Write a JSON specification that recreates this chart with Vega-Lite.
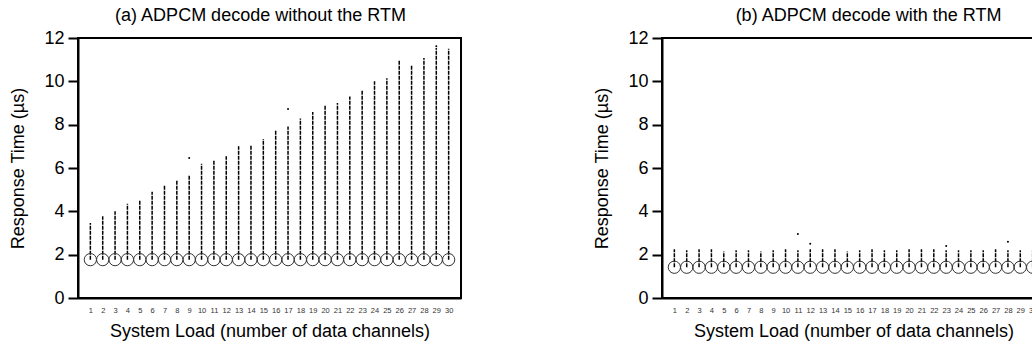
{
  "$schema": "https://vega.github.io/schema/vega-lite/v6.json",
  "background": "white",
  "padding": {"left": 8, "top": 6, "right": 0, "bottom": 0},
  "config": {
    "font": "Liberation Sans",
    "view": {"stroke": "black", "strokeWidth": 2},
    "axis": {"domainColor": "black", "domainWidth": 2, "tickColor": "black", "tickWidth": 2, "grid": false, "labelColor": "black", "titleColor": "black", "titleFontWeight": "normal", "labelFont": "Liberation Sans", "titleFont": "Liberation Sans"},
    "title": {"font": "Liberation Sans", "fontSize": 18, "fontWeight": "normal", "color": "black"},
    "concat": {"spacing": 130}
  },
  "datasets": {
    "a": [
      {"load": 1, "low": 1.77, "high": 3.46}, {"load": 2, "low": 1.77, "high": 3.77}, {"load": 3, "low": 1.77, "high": 4.0},
      {"load": 4, "low": 1.77, "high": 4.35}, {"load": 5, "low": 1.77, "high": 4.54}, {"load": 6, "low": 1.77, "high": 4.9},
      {"load": 7, "low": 1.77, "high": 5.18}, {"load": 8, "low": 1.77, "high": 5.46}, {"load": 9, "low": 1.77, "high": 5.65},
      {"load": 10, "low": 1.77, "high": 6.2}, {"load": 11, "low": 1.77, "high": 6.35}, {"load": 12, "low": 1.77, "high": 6.54},
      {"load": 13, "low": 1.77, "high": 7.0}, {"load": 14, "low": 1.77, "high": 7.06}, {"load": 15, "low": 1.77, "high": 7.34},
      {"load": 16, "low": 1.77, "high": 7.77}, {"load": 17, "low": 1.77, "high": 7.92}, {"load": 18, "low": 1.77, "high": 8.29},
      {"load": 19, "low": 1.77, "high": 8.58}, {"load": 20, "low": 1.77, "high": 8.88}, {"load": 21, "low": 1.77, "high": 9.0},
      {"load": 22, "low": 1.77, "high": 9.3}, {"load": 23, "low": 1.77, "high": 9.58}, {"load": 24, "low": 1.77, "high": 10.0},
      {"load": 25, "low": 1.77, "high": 10.14}, {"load": 26, "low": 1.77, "high": 10.97}, {"load": 27, "low": 1.77, "high": 10.77},
      {"load": 28, "low": 1.77, "high": 11.08}, {"load": 29, "low": 1.77, "high": 11.54}, {"load": 30, "low": 1.77, "high": 11.5}
    ],
    "a_out": [
      {"load": 9, "value": 6.46}, {"load": 17, "value": 8.72}, {"load": 29, "value": 11.62}
    ],
    "b": [
      {"load": 1, "low": 1.42, "high": 2.25}, {"load": 2, "low": 1.42, "high": 2.2}, {"load": 3, "low": 1.42, "high": 2.25},
      {"load": 4, "low": 1.42, "high": 2.25}, {"load": 5, "low": 1.42, "high": 2.15}, {"load": 6, "low": 1.42, "high": 2.2},
      {"load": 7, "low": 1.42, "high": 2.2}, {"load": 8, "low": 1.42, "high": 2.15}, {"load": 9, "low": 1.42, "high": 2.2},
      {"load": 10, "low": 1.42, "high": 2.25}, {"load": 11, "low": 1.42, "high": 2.2}, {"load": 12, "low": 1.42, "high": 2.25},
      {"load": 13, "low": 1.42, "high": 2.25}, {"load": 14, "low": 1.42, "high": 2.25}, {"load": 15, "low": 1.42, "high": 2.15},
      {"load": 16, "low": 1.42, "high": 2.2}, {"load": 17, "low": 1.42, "high": 2.25}, {"load": 18, "low": 1.42, "high": 2.2},
      {"load": 19, "low": 1.42, "high": 2.2}, {"load": 20, "low": 1.42, "high": 2.25}, {"load": 21, "low": 1.42, "high": 2.25},
      {"load": 22, "low": 1.42, "high": 2.25}, {"load": 23, "low": 1.42, "high": 2.2}, {"load": 24, "low": 1.42, "high": 2.2},
      {"load": 25, "low": 1.42, "high": 2.2}, {"load": 26, "low": 1.42, "high": 2.2}, {"load": 27, "low": 1.42, "high": 2.25},
      {"load": 28, "low": 1.42, "high": 2.2}, {"load": 29, "low": 1.42, "high": 2.2}, {"load": 30, "low": 1.42, "high": 2.2}
    ],
    "b_out": [
      {"load": 11, "value": 2.95}, {"load": 12, "value": 2.5}, {"load": 23, "value": 2.4}, {"load": 28, "value": 2.6}
    ]
  },
  "hconcat": [
    {
      "width": 383,
      "height": 260,
      "title": {"text": "(a) ADPCM decode without the RTM", "offset": 4, "dx": -9},
      "layer": [
        {
          "data": {"name": "a"},
          "mark": {"type": "rule", "strokeDash": [4, 1], "strokeWidth": 1.5, "color": "black"},
          "encoding": {
            "x": {"field": "load", "type": "ordinal", "scale": {"type": "point", "padding": 1.07},
              "axis": {"title": "System Load (number of data channels)", "labelAngle": 0, "ticks": false, "labelFontSize": 7.5, "labelColor": "#333", "labelPadding": 8, "titleFontSize": 18, "titlePadding": 9}},
            "y": {"field": "low", "type": "quantitative", "scale": {"domain": [0, 12], "nice": false},
              "axis": {"title": "Response Time (µs)", "values": [0, 2, 4, 6, 8, 10, 12], "tickSize": 10, "labelPadding": 4, "labelFontSize": 18, "titleFontSize": 18, "titlePadding": 16}},
            "y2": {"field": "high"}
          }
        },
        {
          "data": {"name": "a"},
          "mark": {"type": "point", "shape": "circle", "size": 150, "filled": false, "stroke": "#333", "strokeWidth": 1, "opacity": 1},
          "encoding": {
            "x": {"field": "load", "type": "ordinal"},
            "y": {"field": "low", "type": "quantitative"}
          }
        },
        {
          "data": {"name": "a_out"},
          "mark": {"type": "point", "shape": "circle", "size": 4, "filled": true, "color": "black", "opacity": 1},
          "encoding": {
            "x": {"field": "load", "type": "ordinal"},
            "y": {"field": "value", "type": "quantitative"}
          }
        }
      ]
    },
    {
      "width": 383,
      "height": 260,
      "title": {"text": "(b) ADPCM decode with the RTM", "offset": 4, "dx": 15},
      "layer": [
        {
          "data": {"name": "b"},
          "mark": {"type": "rule", "strokeDash": [4, 1], "strokeWidth": 1.5, "color": "black"},
          "encoding": {
            "x": {"field": "load", "type": "ordinal", "scale": {"type": "point", "padding": 1.07},
              "axis": {"title": "System Load (number of data channels)", "labelAngle": 0, "ticks": false, "labelFontSize": 7.5, "labelColor": "#333", "labelPadding": 8, "titleFontSize": 18, "titlePadding": 9}},
            "y": {"field": "low", "type": "quantitative", "scale": {"domain": [0, 12], "nice": false},
              "axis": {"title": "Response Time (µs)", "values": [0, 2, 4, 6, 8, 10, 12], "tickSize": 10, "labelPadding": 4, "labelFontSize": 18, "titleFontSize": 18, "titlePadding": 16}},
            "y2": {"field": "high"}
          }
        },
        {
          "data": {"name": "b"},
          "mark": {"type": "point", "shape": "circle", "size": 150, "filled": false, "stroke": "#333", "strokeWidth": 1, "opacity": 1},
          "encoding": {
            "x": {"field": "load", "type": "ordinal"},
            "y": {"field": "low", "type": "quantitative"}
          }
        },
        {
          "data": {"name": "b_out"},
          "mark": {"type": "point", "shape": "circle", "size": 4, "filled": true, "color": "black", "opacity": 1},
          "encoding": {
            "x": {"field": "load", "type": "ordinal"},
            "y": {"field": "value", "type": "quantitative"}
          }
        }
      ]
    }
  ]
}
